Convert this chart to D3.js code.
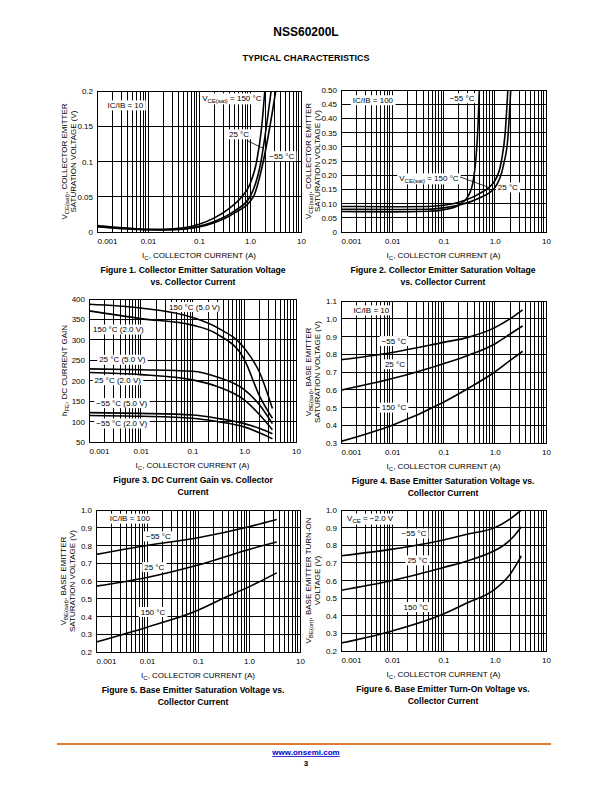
<!DOCTYPE html>
<html>
<head>
<meta charset="utf-8">
<script src="https://cdn.jsdelivr.net/npm/d3@7"></script>
<style>
  body { margin: 0; background: #fff; }
  text { font-family: "Liberation Sans", Arial, sans-serif; }
</style>
</head>
<body>
<div id="page"></div>
<script>
// shared x axis (log, collector current in A)
const xDomain = [0.001, 10];
const xTickVals = [0.001, 0.01, 0.1, 1, 10];
const xTickLabels = ["0.001", "0.01", "0.1", "1.0", "10"];

// Figure 1: VCE(sat), IC/IB = 10
const fig1YTicks = [0, 0.05, 0.1, 0.15, 0.2];
const fig1YLabels = ["0", "0.05", "0.1", "0.15", "0.2"];
const fig1T150 = [[0.001,0.009],[0.002,0.007],[0.005,0.005],[0.01,0.004],[0.02,0.004],[0.05,0.006],[0.1,0.011],[0.2,0.02],[0.4,0.034],[0.69,0.05],[1.0,0.068],[1.35,0.1],[1.7,0.15],[1.95,0.2]];
const fig1T25 = [[0.001,0.008],[0.002,0.0062],[0.005,0.0045],[0.01,0.0035],[0.02,0.0032],[0.05,0.0045],[0.1,0.008],[0.2,0.015],[0.5,0.03],[1.0,0.05],[1.64,0.1],[2.1,0.15],[2.6,0.2]];
const fig1Tm55 = [[0.001,0.0075],[0.002,0.0058],[0.005,0.004],[0.01,0.0032],[0.02,0.003],[0.05,0.004],[0.1,0.007],[0.2,0.013],[0.5,0.027],[1.16,0.05],[1.82,0.1],[2.46,0.15],[3.2,0.2]];

// Figure 2: VCE(sat), IC/IB = 100
const fig2YTicks = [0, 0.05, 0.1, 0.15, 0.2, 0.25, 0.3, 0.35, 0.4, 0.45, 0.5];
const fig2YLabels = ["0", "0.05", "0.10", "0.15", "0.20", "0.25", "0.30", "0.35", "0.40", "0.45", "0.50"];
const fig2Tm55 = [[0.001,0.072],[0.01,0.071],[0.05,0.073],[0.1,0.078],[0.2,0.095],[0.3,0.125],[0.38,0.18],[0.43,0.26],[0.47,0.37],[0.5,0.5]];
const fig2T150 = [[0.001,0.09],[0.01,0.089],[0.05,0.09],[0.1,0.094],[0.2,0.105],[0.5,0.135],[1.0,0.18],[1.35,0.25],[1.6,0.35],[1.8,0.5]];
const fig2T25 = [[0.001,0.08],[0.01,0.079],[0.05,0.08],[0.1,0.085],[0.2,0.095],[0.5,0.12],[1.0,0.156],[1.5,0.24],[1.8,0.33],[2.05,0.5]];

// Figure 3: hFE
const fig3YTicks = [50, 100, 150, 200, 250, 300, 350, 400];
const fig3YLabels = ["50", "100", "150", "200", "250", "300", "350", "400"];
const fig3T150V5 = [[0.001,387],[0.01,378],[0.1,355],[0.3,330],[1.0,280],[2.0,219],[3.5,132]];
const fig3T150V2 = [[0.001,371],[0.01,352],[0.1,336],[0.3,314],[1.0,252],[2.0,161],[3.5,108]];
const fig3T25V5 = [[0.001,229],[0.01,227],[0.1,223],[0.3,209],[1.0,178],[2.0,140],[3.5,95]];
const fig3T25V2 = [[0.001,220],[0.01,215],[0.1,202],[0.3,186],[1.0,153],[2.0,116],[3.5,80]];
const fig3Tm55V5 = [[0.001,122],[0.01,120],[0.1,116],[0.3,108],[1.0,95],[2.0,83],[3.5,70]];
const fig3Tm55V2 = [[0.001,115],[0.01,113],[0.1,108],[0.3,100],[1.0,87],[2.0,72],[3.5,58]];

// Figure 4: VBE(sat), IC/IB = 10
const fig4YTicks = [0.3, 0.4, 0.5, 0.6, 0.7, 0.8, 0.9, 1.0, 1.1];
const fig4YLabels = ["0.3", "0.4", "0.5", "0.6", "0.7", "0.8", "0.9", "1.0", "1.1"];
const fig4Tm55 = [[0.001,0.769],[0.01,0.81],[0.1,0.867],[0.3,0.895],[1.0,0.95],[2.0,1.0],[3.5,1.05]];
const fig4T25 = [[0.001,0.598],[0.01,0.663],[0.1,0.747],[0.3,0.793],[1.0,0.858],[2.0,0.914],[3.5,0.96]];
const fig4T150 = [[0.001,0.309],[0.01,0.40],[0.1,0.53],[0.3,0.607],[1.0,0.70],[2.0,0.765],[3.5,0.817]];

// Figure 5: VBE(sat), IC/IB = 100
const fig5YTicks = [0.2, 0.3, 0.4, 0.5, 0.6, 0.7, 0.8, 0.9, 1.0];
const fig5YLabels = ["0.2", "0.3", "0.4", "0.5", "0.6", "0.7", "0.8", "0.9", "1.0"];
const fig5Tm55 = [[0.001,0.75],[0.01,0.80],[0.1,0.844],[1.0,0.906],[3.5,0.947]];
const fig5T25 = [[0.001,0.571],[0.01,0.62],[0.1,0.69],[1.0,0.778],[3.5,0.82]];
const fig5T150 = [[0.001,0.256],[0.01,0.34],[0.1,0.435],[0.3,0.5],[1.0,0.567],[3.5,0.646]];

// Figure 6: VBE(on), VCE = -2.0 V
const fig6YTicks = fig5YTicks;
const fig6YLabels = fig5YLabels;
const fig6Tm55 = [[0.001,0.74],[0.01,0.778],[0.1,0.83],[0.3,0.864],[1.0,0.9],[2.0,0.95],[3.3,1.0]];
const fig6T25 = [[0.001,0.545],[0.01,0.6],[0.1,0.674],[0.3,0.712],[1.0,0.77],[1.5,0.8],[2.5,0.86],[3.3,0.905]];
const fig6T150 = [[0.001,0.245],[0.01,0.314],[0.1,0.41],[0.3,0.475],[1.0,0.55],[2.0,0.636],[3.3,0.74]];

const W = 612, H = 792;
const svg = d3.select("#page").append("svg")
    .attr("width", W)
    .attr("height", H)
    .style("display", "block");

// header
svg.append("text").attr("x", 306).attr("y", 36).attr("text-anchor", "middle")
    .attr("font-size", 12).attr("font-weight", "bold").text("NSS60200L");
svg.append("text").attr("x", 306).attr("y", 61).attr("text-anchor", "middle")
    .attr("font-size", 9).attr("font-weight", "bold").text("TYPICAL CHARACTERISTICS");

// text with subscripts: segs = [[text, "sub"?], ...]
function rich(t, segs, subSize) {
    let wasSub = false;
    segs.forEach(s => {
        const sp = t.append("tspan").text(s[0]);
        if (s[1] === "sub") {
            sp.attr("font-size", subSize).attr("dy", 2);
            wasSub = true;
        } else if (wasSub) {
            sp.attr("dy", -2);
            wasSub = false;
        }
    });
    return t;
}

const xTitle = [["I"], ["C", "sub"], [", COLLECTOR CURRENT (A)"]];
let clipN = 0;

function drawChart(c) {
    const x = d3.scaleLog().domain(xDomain).range([c.x0, c.x1]);
    const y = d3.scaleLinear().domain([c.yTicks[0], c.yTicks[c.yTicks.length - 1]]).range([c.bottom, c.top]);
    const g = svg.append("g");

    // vertical grid at every minor decade step
    const vLines = [];
    for (let e = -3; e < 1; e++) for (let m = 1; m < 10; m++) vLines.push(m * Math.pow(10, e));
    vLines.push(10);
    const grid = g.append("g").attr("shape-rendering", "crispEdges")
        .attr("stroke", "#000").attr("stroke-width", 1);
    grid.selectAll("line.v").data(vLines).join("line").attr("class", "v")
        .attr("x1", d => x(d)).attr("x2", d => x(d))
        .attr("y1", c.top).attr("y2", c.bottom);
    grid.selectAll("line.h").data(c.yTicks).join("line").attr("class", "h")
        .attr("x1", c.x0).attr("x2", c.x1)
        .attr("y1", d => y(d)).attr("y2", d => y(d));
    grid.append("rect").attr("x", c.x0).attr("y", c.top)
        .attr("width", c.x1 - c.x0).attr("height", c.bottom - c.top)
        .attr("fill", "none");

    // labels with white boxes over the grid
    const lab = g.append("g");
    c.labels.forEach(l => {
        const t = lab.append("text").attr("x", x(l.at[0])).attr("y", y(l.at[1]))
            .attr("dy", "0.35em").attr("text-anchor", "middle").attr("font-size", 8);
        rich(t, l.segs, 6);
        const b = t.node().getBBox();
        lab.insert("rect", () => t.node())
            .attr("x", b.x - 2).attr("y", b.y - 0.5)
            .attr("width", b.width + 4).attr("height", b.height + 1)
            .attr("fill", "#fff");
    });
    (c.leaders || []).forEach(l => {
        g.append("line")
            .attr("x1", x(l[0][0])).attr("y1", y(l[0][1]))
            .attr("x2", x(l[1][0])).attr("y2", y(l[1][1]))
            .attr("stroke", "#000").attr("stroke-width", 0.8);
    });

    // curves
    const id = "clip" + (clipN++);
    svg.append("clipPath").attr("id", id).append("rect")
        .attr("x", c.x0).attr("y", c.top)
        .attr("width", c.x1 - c.x0).attr("height", c.bottom - c.top);
    const line = d3.line().x(d => x(d[0])).y(d => y(d[1])).curve(d3.curveMonotoneX);
    g.append("g").attr("clip-path", `url(#${id})`)
        .selectAll("path").data(c.series).join("path")
        .attr("d", line).attr("fill", "none")
        .attr("stroke", "#000").attr("stroke-width", 1.6);

    // axes
    const ax = g.append("g").attr("transform", `translate(0,${c.bottom})`)
        .call(d3.axisBottom(x).tickValues(xTickVals)
            .tickFormat((d, i) => xTickLabels[i]).tickSize(0).tickPadding(6));
    ax.select(".domain").remove();
    ax.selectAll("text").attr("font-size", 8).attr("font-family", null)
        .attr("text-anchor", (d, i) => i === 0 ? "start" : "middle");
    const ay = g.append("g").attr("transform", `translate(${c.x0},0)`)
        .call(d3.axisLeft(y).tickValues(c.yTicks)
            .tickFormat((d, i) => c.yLabels[i]).tickSize(0).tickPadding(4));
    ay.select(".domain").remove();
    ay.selectAll("text").attr("font-size", 8).attr("font-family", null);

    // axis titles
    const midX = (c.x0 + c.x1) / 2;
    rich(g.append("text").attr("x", midX).attr("y", c.bottom + 26)
        .attr("text-anchor", "middle").attr("font-size", 8), xTitle, 6);
    const midY = (c.top + c.bottom) / 2;
    c.yTitle.forEach((segs, i) => {
        const t = g.append("text")
            .attr("transform", `translate(${c.yTitleX + i * 8.5},${midY}) rotate(-90)`)
            .attr("text-anchor", "middle").attr("font-size", 8);
        rich(t, segs, 6);
    });

    // caption
    c.caption.forEach((s, i) => {
        g.append("text").attr("x", c.capX).attr("y", c.bottom + 41 + i * 11.5)
            .attr("text-anchor", "middle").attr("font-size", 8.6)
            .attr("font-weight", "bold").text(s);
    });
}

const deg = " \u00B0C";

drawChart({
    x0: 97, x1: 301, top: 91, bottom: 232,
    yTicks: fig1YTicks, yLabels: fig1YLabels,
    series: [fig1T150, fig1T25, fig1Tm55],
    labels: [
        { at: [0.0036, 0.18], segs: [["IC/IB = 10"]] },
        { at: [0.44, 0.19], segs: [["V"], ["CE(sat)", "sub"], [" = 150" + deg]] },
        { at: [0.61, 0.139], segs: [["25" + deg]] },
        { at: [4.2, 0.108], segs: [["\u221255" + deg]] }
    ],
    leaders: [[[0.86, 0.13], [1.9, 0.118]]],
    yTitleX: 67,
    yTitle: [[["V"], ["CE(sat)", "sub"], [", COLLECTOR EMITTER"]], [["SATURATION VOLTAGE (V)"]]],
    capX: 193,
    caption: ["Figure 1. Collector Emitter Saturation Voltage", "vs. Collector Current"]
});

drawChart({
    x0: 341, x1: 546, top: 90, bottom: 232,
    yTicks: fig2YTicks, yLabels: fig2YLabels,
    series: [fig2Tm55, fig2T150, fig2T25],
    labels: [
        { at: [0.0042, 0.465], segs: [["IC/IB = 100"]] },
        { at: [0.23, 0.472], segs: [["\u221255" + deg]] },
        { at: [0.052, 0.19], segs: [["V"], ["CE(sat)", "sub"], [" = 150" + deg]] },
        { at: [1.8, 0.158], segs: [["25" + deg]] }
    ],
    leaders: [[[0.21, 0.194], [0.74, 0.158]]],
    yTitleX: 311,
    yTitle: [[["V"], ["CE(sat)", "sub"], [", COLLECTOR EMITTER"]], [["SATURATION VOLTAGE (V)"]]],
    capX: 443,
    caption: ["Figure 2. Collector Emitter Saturation Voltage", "vs. Collector Current"]
});

drawChart({
    x0: 89, x1: 296, top: 299, bottom: 442,
    yTicks: fig3YTicks, yLabels: fig3YLabels,
    series: [fig3T150V5, fig3T150V2, fig3T25V5, fig3T25V2, fig3Tm55V5, fig3Tm55V2],
    labels: [
        { at: [0.109, 381], segs: [["150" + deg + " (5.0 V)"]] },
        { at: [0.0037, 326], segs: [["150" + deg + " (2.0 V)"]] },
        { at: [0.0044, 252], segs: [["25" + deg + " (5.0 V)"]] },
        { at: [0.0036, 202], segs: [["25" + deg + " (2.0 V)"]] },
        { at: [0.0043, 146], segs: [["\u221255" + deg + " (5.0 V)"]] },
        { at: [0.0043, 96], segs: [["\u221255" + deg + " (2.0 V)"]] }
    ],
    yTitleX: 67,
    yTitle: [[["h"], ["FE", "sub"], [", DC CURRENT GAIN"]]],
    capX: 193,
    caption: ["Figure 3. DC Current Gain vs. Collector", "Current"]
});

drawChart({
    x0: 341, x1: 546, top: 301, bottom: 443,
    yTicks: fig4YTicks, yLabels: fig4YLabels,
    series: [fig4Tm55, fig4T25, fig4T150],
    labels: [
        { at: [0.0039, 1.049], segs: [["IC/IB = 10"]] },
        { at: [0.0108, 0.876], segs: [["\u221255" + deg]] },
        { at: [0.0113, 0.745], segs: [["25" + deg]] },
        { at: [0.0108, 0.501], segs: [["150" + deg]] }
    ],
    yTitleX: 311,
    yTitle: [[["V"], ["BE(sat)", "sub"], [", BASE EMITTER"]], [["SATURATION VOLTAGE (V)"]]],
    capX: 443,
    caption: ["Figure 4. Base Emitter Saturation Voltage vs.", "Collector Current"]
});

drawChart({
    x0: 96, x1: 300, top: 510, bottom: 652,
    yTicks: fig5YTicks, yLabels: fig5YLabels,
    series: [fig5Tm55, fig5T25, fig5T150],
    labels: [
        { at: [0.0046, 0.953], segs: [["IC/IB = 100"]] },
        { at: [0.0167, 0.853], segs: [["\u221255" + deg]] },
        { at: [0.0139, 0.68], segs: [["25" + deg]] },
        { at: [0.0131, 0.427], segs: [["150" + deg]] }
    ],
    yTitleX: 66,
    yTitle: [[["V"], ["BE(sat)", "sub"], [", BASE EMITTER"]], [["SATURATION VOLTAGE (V)"]]],
    capX: 193,
    caption: ["Figure 5. Base Emitter Saturation Voltage vs.", "Collector Current"]
});

drawChart({
    x0: 341, x1: 546, top: 510, bottom: 651,
    yTicks: fig6YTicks, yLabels: fig6YLabels,
    series: [fig6Tm55, fig6T25, fig6T150],
    labels: [
        { at: [0.0037, 0.953], segs: [["V"], ["CE", "sub"], [" = \u22122.0 V"]] },
        { at: [0.0265, 0.868], segs: [["\u221255" + deg]] },
        { at: [0.031, 0.716], segs: [["25" + deg]] },
        { at: [0.0289, 0.451], segs: [["150" + deg]] }
    ],
    yTitleX: 311,
    yTitle: [[["V"], ["BE(on)", "sub"], [", BASE EMITTER TURN-ON"]], [["VOLTAGE (V)"]]],
    capX: 443,
    caption: ["Figure 6. Base Emitter Turn-On Voltage vs.", "Collector Current"]
});

// footer
svg.append("line").attr("x1", 57).attr("x2", 551).attr("y1", 744).attr("y2", 744)
    .attr("stroke", "#e07b2e").attr("stroke-width", 2);
svg.append("text").attr("x", 306).attr("y", 755).attr("text-anchor", "middle")
    .attr("font-size", 8).attr("font-weight", "bold").attr("fill", "#0000cc")
    .attr("text-decoration", "underline").text("www.onsemi.com");
svg.append("text").attr("x", 306).attr("y", 766).attr("text-anchor", "middle")
    .attr("font-size", 8).attr("font-weight", "bold").text("3");
</script>
</body>
</html>
